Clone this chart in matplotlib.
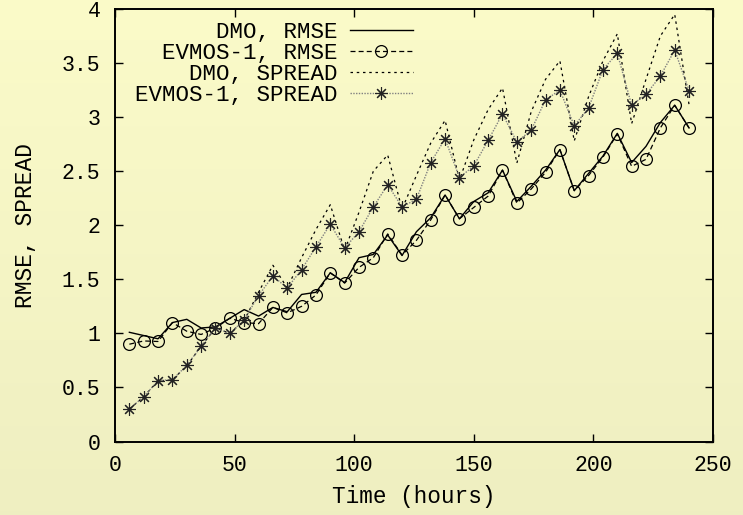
import matplotlib
matplotlib.use("Agg")
import matplotlib.pyplot as plt
import numpy as np

# forecast lead times (hours)
hours = list(range(6, 241, 6))

dmo_rmse = [1.01, 0.98, 0.95, 1.10, 1.13, 1.05, 1.06, 1.14, 1.22, 1.16,
            1.24, 1.20, 1.36, 1.38, 1.56, 1.47, 1.70, 1.73, 1.91, 1.72,
            1.94, 2.07, 2.28, 2.06, 2.22, 2.30, 2.51, 2.22, 2.36, 2.51,
            2.70, 2.32, 2.48, 2.64, 2.85, 2.58, 2.73, 2.95, 3.11, 2.90]

evmos_rmse = [0.90, 0.93, 0.925, 1.10, 1.02, 0.99, 1.05, 1.14, 1.10, 1.09,
              1.24, 1.19, 1.25, 1.355, 1.56, 1.465, 1.61, 1.70, 1.92, 1.725,
              1.86, 2.05, 2.28, 2.06, 2.165, 2.27, 2.51, 2.205, 2.335, 2.49,
              2.70, 2.32, 2.46, 2.63, 2.845, 2.545, 2.61, 2.90, 3.11, 2.90]

dmo_spread = [0.30, 0.415, 0.56, 0.57, 0.70, 0.88, 1.05, 1.00, 1.12, 1.38,
              1.63, 1.42, 1.70, 1.96, 2.19, 1.77, 2.12, 2.50, 2.65, 2.15,
              2.46, 2.76, 2.97, 2.42, 2.79, 3.07, 3.27, 2.575, 3.05, 3.35,
              3.52, 2.78, 3.19, 3.52, 3.77, 2.94, 3.35, 3.75, 3.95, 3.115]

evmos_spread = [0.30, 0.415, 0.563, 0.572, 0.705, 0.88, 1.05, 1.00, 1.125, 1.35,
                1.53, 1.42, 1.59, 1.80, 2.01, 1.79, 1.94, 2.17, 2.375, 2.17,
                2.24, 2.58, 2.80, 2.44, 2.55, 2.785, 3.03, 2.77, 2.88, 3.16,
                3.25, 2.92, 3.085, 3.44, 3.59, 3.11, 3.21, 3.38, 3.62, 3.245]

plt.rcParams['font.family'] = ['Liberation Mono', 'DejaVu Sans Mono']
plt.rcParams['font.size'] = 15.5

fig = plt.figure(figsize=(7.43, 5.15), dpi=100)

# light yellow gradient background
bg = fig.add_axes([0, 0, 1, 1], zorder=-10)
grad = np.linspace(0, 1, 256).reshape(-1, 1)
cols = np.array([[0.984, 0.984, 0.788], [0.937, 0.937, 0.757]])
img = cols[0] * (1 - grad[..., None]) + cols[1] * grad[..., None]
bg.imshow(img, aspect='auto', extent=[0, 1, 0, 1])
bg.axis('off')

ax = fig.add_axes([0.1548, 0.1427, 0.8048, 0.8398])
ax.set_facecolor('none')

ax.plot(hours, dmo_rmse, color='black', lw=1.0, label='DMO, RMSE')
ax.plot(hours, evmos_rmse, color='black', lw=0.9, ls=(0, (4, 2.5)),
        marker='o', ms=8.5, mfc='none', mec='black', mew=0.9,
        label='EVMOS-1, RMSE')
ax.plot(hours, dmo_spread, color='black', lw=0.9, ls=(0, (2, 3)),
        label='DMO, SPREAD')
ax.plot(hours, evmos_spread, color='#808080', lw=1.0, ls=(0, (1, 1)),
        marker=(8, 2, 0), ms=9, mec='#222222', mew=0.8,
        label='EVMOS-1, SPREAD')

ax.set_xlim(0, 250)
ax.set_ylim(0, 4)
ax.set_xticks([0, 50, 100, 150, 200, 250])
ax.set_yticks([0, 0.5, 1, 1.5, 2, 2.5, 3, 3.5, 4])
ax.set_yticklabels(['0', '0.5', '1', '1.5', '2', '2.5', '3', '3.5', '4'])
ax.tick_params(direction='in', length=6, width=1.0, top=True, right=True,
               labelsize=15.5)
ax.tick_params(axis='x', pad=10)
ax.tick_params(axis='y', pad=10.5)
for s in ax.spines.values():
    s.set_linewidth(1.4)

ax.set_xlabel('Time (hours)', labelpad=6, fontsize=16.3)
ax.set_ylabel('RMSE, SPREAD', labelpad=18, fontsize=16.5)

leg = ax.legend(loc='upper right', bbox_to_anchor=(0.498, 0.97), frameon=False,
                markerfirst=False, numpoints=1, handlelength=2.8,
                handletextpad=0.55, labelspacing=0.0, borderpad=0,
                borderaxespad=0, fontsize=16.2)
# right-align the labels like gnuplot's key
leg._legend_box._children[-1]._children[0].align = 'right'

fig.savefig('out.png', dpi=100)
